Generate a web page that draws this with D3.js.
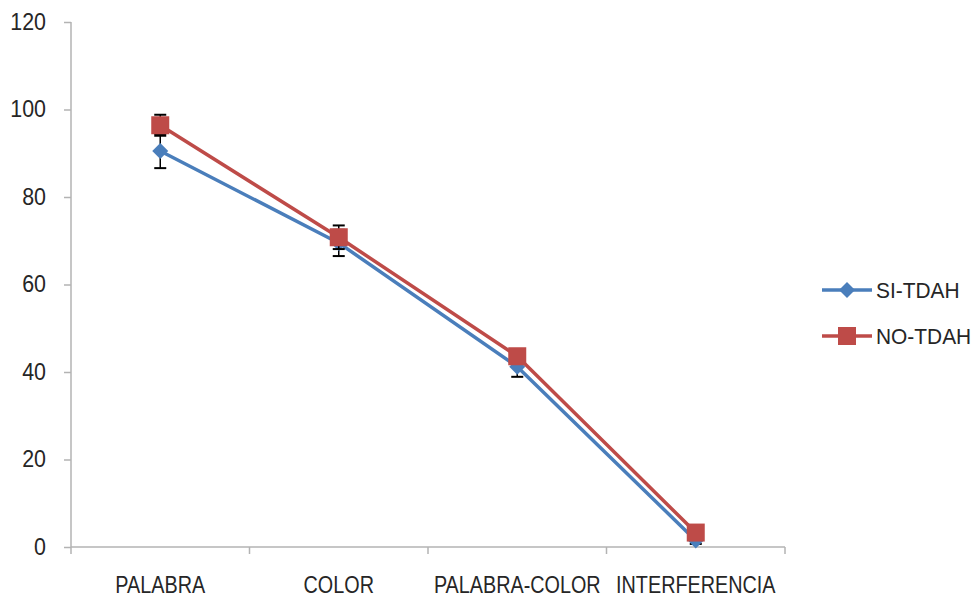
<!DOCTYPE html>
<html><head><meta charset="utf-8">
<script src="https://cdn.jsdelivr.net/npm/d3@7/dist/d3.min.js"></script>
<style>body{margin:0;background:#fff}svg{display:block}</style>
</head><body>
<svg id="c" width="977" height="597"></svg>
<script>
const categories = ["PALABRA", "COLOR", "PALABRA-COLOR", "INTERFERENCIA"];
const yTicks = [0, 20, 40, 60, 80, 100, 120];
const seriesNames = ["SI-TDAH", "NO-TDAH"];
const siValues = [90.5, 69.5, 41.2, 1.5];
const siErrors = [3.9, 3.0, 2.3, 0.8];
const noValues = [96.4, 70.8, 43.6, 3.3];
const noErrors = [2.4, 2.7, 1.5, 0.8];

const colors = {"SI-TDAH": "#4a7ebb", "NO-TDAH": "#be4b48"};
const svg = d3.select("#c");
const font = "'Liberation Sans', Arial, sans-serif";
const mLeft = 71, mRight = 785, mTop = 22, mBottom = 547;

function condense(sel, f) {
  sel.each(function() {
    const w = this.getComputedTextLength();
    d3.select(this).attr("textLength", w * f).attr("lengthAdjust", "spacingAndGlyphs");
  });
}

const x = d3.scaleBand().domain(categories).range([mLeft, mRight]);
const y = d3.scaleLinear().domain([0, 120]).range([mBottom, mTop]);

// axes
const yAxis = svg.append("g").attr("transform", `translate(${mLeft},0)`)
  .call(d3.axisLeft(y).tickValues(yTicks).tickSize(7).tickPadding(18));
yAxis.select(".domain").attr("stroke", "#b3b3b3").attr("stroke-width", 1.5).attr("d", `M0,${mTop}V${mBottom}`);
yAxis.selectAll(".tick line").attr("stroke", "#b3b3b3").attr("stroke-width", 1.5);
yAxis.selectAll(".tick text").attr("font-family", font).attr("font-size", 23).attr("fill", "#262626").call(condense, 0.93);

const xAxis = svg.append("g").attr("transform", `translate(0,${mBottom})`)
  .call(d3.axisBottom(x).tickSize(0).tickPadding(33));
xAxis.select(".domain").attr("stroke", "#b3b3b3").attr("stroke-width", 1.5).attr("d", `M${mLeft},0H${mRight}`);
xAxis.selectAll(".tick text").attr("font-family", font).attr("font-size", 23).attr("fill", "#262626").attr("dy", "0.55em").call(condense, 0.86);
// category boundary ticks
const bounds = categories.map(c => x(c)).concat([x(categories[categories.length-1]) + x.bandwidth()]);
xAxis.selectAll(".btick").data(bounds).join("line").attr("class", "btick")
  .attr("x1", d => d).attr("x2", d => d).attr("y1", 0).attr("y2", 7)
  .attr("stroke", "#b3b3b3").attr("stroke-width", 1.5);

const cx = c => x(c) + x.bandwidth() / 2;
const series = [
  {name: "SI-TDAH", values: siValues, errors: siErrors},
  {name: "NO-TDAH", values: noValues, errors: noErrors}
];
const line = d3.line().x((d, i) => cx(categories[i])).y(d => y(d));

function drawMarker(g, name, px, py) {
  if (name === "SI-TDAH") {
    g.append("path").attr("d", `M${px},${py-8}L${px+8},${py}L${px},${py+8}L${px-8},${py}Z`).attr("fill", colors[name]);
  } else {
    g.append("rect").attr("x", px - 9).attr("y", py - 9).attr("width", 18).attr("height", 18).attr("fill", colors[name]);
  }
}

series.forEach(s => {
  const g = svg.append("g");
  s.values.forEach((v, i) => {
    const px = cx(categories[i]);
    const e = s.errors[i];
    g.append("line").attr("x1", px).attr("x2", px).attr("y1", y(v + e)).attr("y2", y(v - e)).attr("stroke", "#000").attr("stroke-width", 1.5);
    [v + e, v - e].forEach(t => g.append("line").attr("x1", px - 6).attr("x2", px + 6).attr("y1", y(t)).attr("y2", y(t)).attr("stroke", "#000").attr("stroke-width", 2));
  });
  g.append("path").datum(s.values).attr("d", line).attr("fill", "none").attr("stroke", colors[s.name]).attr("stroke-width", 3.5).attr("stroke-linejoin", "round");
  s.values.forEach((v, i) => drawMarker(g, s.name, cx(categories[i]), y(v)));
});

// legend
const legend = svg.append("g");
seriesNames.forEach((n, i) => {
  const ly = 290 + i * 46;
  legend.append("line").attr("x1", 822).attr("x2", 872).attr("y1", ly).attr("y2", ly).attr("stroke", colors[n]).attr("stroke-width", 3.5);
  drawMarker(legend, n, 847, ly);
  legend.append("text").attr("x", 876).attr("y", ly).attr("dy", "0.36em").attr("font-family", font).attr("font-size", 22).attr("fill", "#262626").text(n).call(condense, 0.95);
});
</script>
</body></html>
